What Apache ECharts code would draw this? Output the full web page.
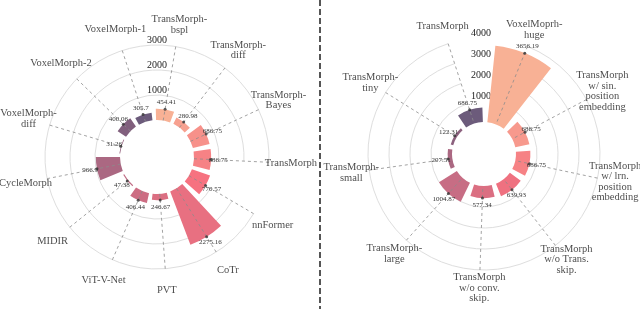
<!DOCTYPE html>
<html><head><meta charset="utf-8">
<script src="https://cdn.jsdelivr.net/npm/echarts@6/dist/echarts.min.js"></script>
<style>html,body{margin:0;padding:0;background:#fff}#c{width:640px;height:309px}</style>
</head><body><div id="c"></div>
<script>
// ---- Left chart data (counter-clockwise from the 3 o'clock position) ----
const leftCategories = ['TransMorph', 'TransMorph-\nBayes', 'TransMorph-\ndiff', 'TransMorph-\nbspl',
  'VoxelMorph-1', 'VoxelMorph-2', 'VoxelMorph-\ndiff', 'CycleMorph', 'MIDIR', 'ViT-V-Net', 'PVT', 'CoTr', 'nnFormer'];
const leftValues = [686.75, 686.75, 280.98, 454.41, 305.7, 400.06, 31.26, 966.9, 47.38, 406.44, 246.67, 2275.16, 770.57];
const leftTicks = [0, 1000, 2000, 3000];

// ---- Right chart data (counter-clockwise) ----
const rightCategories = ['TransMorph', 'TransMorph-\ntiny', 'TransMorph-\nsmall', 'TransMorph-\nlarge',
  'TransMorph\nw/o conv.\nskip.', 'TransMorph\nw/o Trans.\nskip.', 'TransMorph\nw/ lrn.\nposition\nembedding',
  'TransMorph\nw/ sin.\nposition\nembedding', 'VoxelMoprh-\nhuge'];
const rightValues = [686.75, 122.31, 207.51, 1004.87, 577.34, 639.93, 686.75, 686.75, 3656.19];
const rightTicks = [0, 1000, 2000, 3000, 4000];

// ---- styles ----
const leftColors = ['#F68285', '#F7918A', '#F7A190', '#F8B195', '#6C5B7B', '#815F7D', '#96637F',
  '#AB6882', '#C06C84', '#CD6D83', '#DB6F82', '#E87081', '#F67280'];
const rightColors = ['#6C5B7B', '#8C617E', '#AB6882', '#C76D84', '#DB6F82', '#EF7180', '#F68285', '#F7998D', '#F8B195'];
const FONT = "'Liberation Serif', 'DejaVu Serif', serif";

function buildChart(cfg, pi) {
  const max = cfg.ticks[cfg.ticks.length - 1];
  const interval = cfg.ticks[1] - cfg.ticks[0];
  const labelValue = max + max * cfg.labelGap / (cfg.radius[1] - cfg.radius[0]);
  const polar = [
    { center: cfg.center, radius: cfg.radius },
    { center: cfg.center, radius: cfg.radius }
  ];
  const angleAxis = [
    {
      polarIndex: pi, type: 'category', data: cfg.categories, startAngle: cfg.startAngle, clockwise: false,
      boundaryGap: false, z: 5,
      axisLine: { show: false }, axisTick: { show: false }, axisLabel: { show: false },
      splitLine: { show: true, lineStyle: { color: '#8c8c8c', width: 0.8, type: [3, 3] } }
    },
    { polarIndex: pi + 1, type: 'value', min: 0, max: 360, startAngle: 90, show: false }
  ];
  const ringColors = cfg.ticks.map((t, i) => i === 0 ? 'rgba(0,0,0,0)' : '#dedede');
  const radiusAxis = [
    {
      polarIndex: pi, type: 'value', min: 0, max: max, interval: interval,
      axisLine: { show: false }, axisTick: { show: false }, axisLabel: { show: false },
      splitLine: { show: true, lineStyle: { color: ringColors, width: 1 } }
    },
    {
      polarIndex: pi + 1, type: 'value', min: 0, max: max, interval: interval, z: 1,
      axisLine: { show: false }, axisTick: { show: false }, splitLine: { show: false },
      axisLabel: {
        show: true, showMinLabel: false, align: 'center', verticalAlign: 'bottom', margin: cfg.tickLabelShift,
        fontSize: 10, fontFamily: FONT, color: '#222',
        formatter: v => v === 0 ? '' : String(v)
      }
    }
  ];
  const series = [
    {
      type: 'bar', coordinateSystem: 'polar', polarIndex: pi, barCategoryGap: cfg.gap, z: 2,
      data: cfg.values.map((v, i) => ({ value: v, itemStyle: { color: cfg.colors[i] } })),
      label: {
        show: true, position: 'end', distance: 7, rotate: 0, align: 'center', verticalAlign: 'middle',
        fontSize: 7, fontFamily: FONT, color: '#333', formatter: p => String(p.value)
      },
      emphasis: { disabled: true }, silent: true
    },
    {
      type: 'scatter', coordinateSystem: 'polar', polarIndex: pi, z: 6, symbolSize: 3,
      itemStyle: { color: '#333' }, silent: true,
      data: cfg.values.map((v, i) => [v, i])
    },
    {
      type: 'scatter', coordinateSystem: 'polar', polarIndex: pi, z: 6, symbolSize: 1, clip: false,
      itemStyle: { color: 'rgba(0,0,0,0)' }, silent: true,
      data: cfg.categories.map((c, i) => [labelValue, i]),
      label: {
        show: true, position: 'inside', fontSize: 10.5, lineHeight: 10.5, fontFamily: FONT, color: '#1a1a1a',
        align: 'center', verticalAlign: 'middle',
        formatter: p => cfg.categories[p.dataIndex]
      }
    }
  ];
  return { polar, angleAxis, radiusAxis, series };
}

const L = buildChart({
  categories: leftCategories, values: leftValues, ticks: leftTicks, colors: leftColors,
  center: [157, 157], radius: [37, 112], startAngle: -2.7, gap: '20%', labelGap: 22, tickLabelShift: 0
}, 0);
const R = buildChart({
  categories: rightCategories, values: rightValues, ticks: rightTicks, colors: rightColors,
  center: [484, 154], radius: [32, 116], startAngle: 108, gap: '20%', labelGap: 18, tickLabelShift: 3
}, 2);

const chart = echarts.init(document.getElementById('c'), null, { renderer: 'canvas' });
chart.setOption({
  animation: false,
  backgroundColor: '#fff',
  polar: L.polar.concat(R.polar),
  angleAxis: L.angleAxis.concat(R.angleAxis),
  radiusAxis: L.radiusAxis.concat(R.radiusAxis),
  series: L.series.concat(R.series),
  graphic: [{
    type: 'line', z: 10, silent: true,
    shape: { x1: 320, y1: 0, x2: 320, y2: 309 },
    style: { stroke: '#555', lineWidth: 2, lineDash: [6, 3] }
  }]
});
</script></body></html>
